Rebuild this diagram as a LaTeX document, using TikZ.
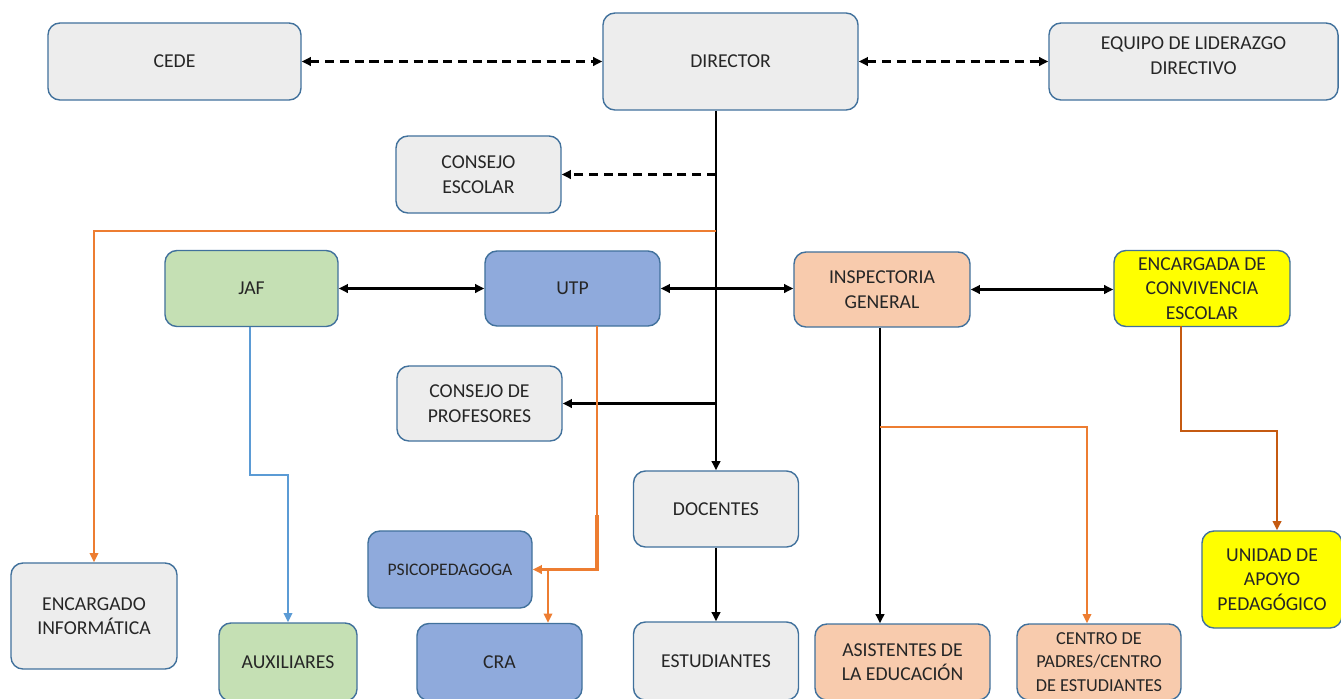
\documentclass[tikz,border=0pt]{standalone}
\usepackage{fontspec}
\setmainfont{Carlito}
\usetikzlibrary{arrows.meta}
\definecolor{gris}{HTML}{EDEDED}
\definecolor{verde}{HTML}{C5E0B4}
\definecolor{azulc}{HTML}{8FAADC}
\definecolor{salmon}{HTML}{F8CBAD}
\definecolor{amarillo}{HTML}{FFFF00}
\definecolor{borde}{HTML}{41719C}
\definecolor{naranja}{HTML}{ED7D31}
\definecolor{naranjaosc}{HTML}{C55A11}
\definecolor{celeste}{HTML}{5B9BD5}
\tikzset{
  caja/.style={draw=borde, line width=1pt, rounded corners=0.3cm, align=center, inner sep=2pt, text=black!85, font=\fontsize{14}{17.5}\selectfont},
  punta/.tip={Triangle[length=6.5pt,width=6pt]},
  flecha/.style={line width=1.6pt, -punta},
  doble/.style={line width=1.6pt, punta-punta},
  punteada/.style={line width=1.9pt, dash pattern=on 6.5pt off 4pt},
  lnaranja/.style={naranja, line width=1.4pt},
}

\begin{document}
\begin{tikzpicture}[x=0.025cm, y=-0.025cm]
	\useasboundingbox (0,0) rectangle (1341,698);
	% fila de arriba
	\node[caja, fill=gris, minimum width=6.325cm, minimum height=1.925cm] (cede) at (174.5,61.5) {CEDE};
	\node[caja, fill=gris, minimum width=6.375cm, minimum height=2.425cm] (director) at (730.5,61.5) {DIRECTOR};
	\node[caja, fill=gris, minimum width=7.225cm, minimum height=1.925cm] (equipo) at (1193.5,61.5) {EQUIPO DE LIDERAZGO\\DIRECTIVO\\[-9pt]\mbox{}};
	\node[caja, fill=gris, minimum width=4.125cm, minimum height=1.925cm] (cescolar) at (478.5,174.5) {CONSEJO\\ESCOLAR};
	% fila del medio
	\node[caja, fill=verde, minimum width=4.325cm, minimum height=1.9cm] (jaf) at (251.5,288.5) {JAF};
	\node[caja, fill=azulc, minimum width=4.375cm, minimum height=1.875cm] (utp) at (572.5,288.5) {UTP};
	\node[caja, fill=salmon, minimum width=4.4cm, minimum height=1.875cm] (insp) at (882,289.5) {INSPECTORIA\\GENERAL};
	\node[caja, fill=amarillo, minimum width=4.4cm, minimum height=1.9cm] (encargada) at (1202,288.5) {ENCARGADA DE\\CONVIVENCIA\\ESCOLAR};
	\node[caja, fill=gris, minimum width=4.125cm, minimum height=1.875cm] (cprof) at (479.5,403.5) {CONSEJO DE\\PROFESORES};
	\node[caja, fill=gris, minimum width=4.125cm, minimum height=1.9cm] (docentes) at (716,509) {DOCENTES};
	\node[caja, fill=azulc, minimum width=4.1cm, minimum height=1.925cm, font=\fontsize{12.5}{15}\selectfont] (psico) at (450,569.5) {PSICOPEDAGOGA};
	% fila de abajo
	\node[caja, fill=gris, minimum width=4.15cm, minimum height=2.65cm] (informatica) at (94,616) {ENCARGADO\\INFORMÁTICA};
	\node[caja, fill=verde, minimum width=3.45cm, minimum height=1.95cm] (auxiliares) at (288,662) {AUXILIARES};
	\node[caja, fill=azulc, minimum width=4.125cm, minimum height=1.925cm] (cra) at (499.5,662) {CRA};
	\node[caja, fill=gris, minimum width=4.125cm, minimum height=1.95cm] (estudiantes) at (716,661) {ESTUDIANTES};
	\node[caja, fill=salmon, minimum width=4.375cm, minimum height=1.9cm] (asistentes) at (902.5,662) {ASISTENTES DE\\LA EDUCACIÓN};
	\node[caja, fill=salmon, minimum width=4.1cm, minimum height=1.9cm, font=\fontsize{13}{16.5}\selectfont] (centro) at (1099,662) {CENTRO DE\\PADRES/CENTRO\\DE ESTUDIANTES};
	\node[caja, fill=amarillo, minimum width=3.5cm, minimum height=2.425cm] (unidad) at (1272,579.5) {UNIDAD DE\\APOYO\\PEDAGÓGICO};
	% puntos de quiebre
	\coordinate (naranja1) at (716,231);
	\coordinate (azul1) at (250,475);
	\coordinate (utp1) at (597,326);
	\coordinate (utp2) at (597,515);
	\coordinate (cra1) at (548,569.5);
	\coordinate (insp1) at (880,427);
	\coordinate (centro1) at (1087,427);
	\coordinate (enc1) at (1181,326);
	\coordinate (enc2) at (1277,431);
	% lineas punteadas
	\draw[punteada, punta-punta] (cede.east) -- (director.west |- cede.east);
	\draw[punteada, punta-punta] (director.east |- equipo.west) -- (equipo.west);
	\draw[punteada, -punta] (docentes.north |- cescolar.east) -- (cescolar.east);
	% director hacia abajo
	\draw[flecha] (director.south -| docentes.north) -- (docentes.north);
	\draw[flecha] (docentes.north |- cprof.east) -- (cprof.east);
	\draw[flecha] (docentes.south) -- (estudiantes.north);
	\draw[lnaranja, -punta] (naranja1) -| (informatica.north);
	% flechas dobles
	\draw[doble] (jaf.east) -- (utp.west);
	\draw[doble] (utp.east) -- (insp.west |- utp.east);
	\draw[doble] (insp.east) -- (encargada.west |- insp.east);
	% ramas
	\draw[celeste, line width=1.4pt, -punta] (jaf.south -| azul1) -- (azul1) -| (auxiliares.north);
	\draw[lnaranja] (utp1) -- (utp2);
	\draw[lnaranja, line width=2.2pt, -punta] (utp2) |- (psico.east);
	\draw[lnaranja, -punta] (cra1) -- (cra1 |- cra.north);
	\draw[flecha] (insp.south -| insp1) -- (insp1 |- asistentes.north);
	\draw[lnaranja, -punta] (insp1) -- (centro1) -- (centro1 |- centro.north);
	\draw[naranjaosc, line width=1.5pt, -punta] (enc1) |- (enc2) -- (enc2 |- unidad.north);
\end{tikzpicture}
\end{document}
